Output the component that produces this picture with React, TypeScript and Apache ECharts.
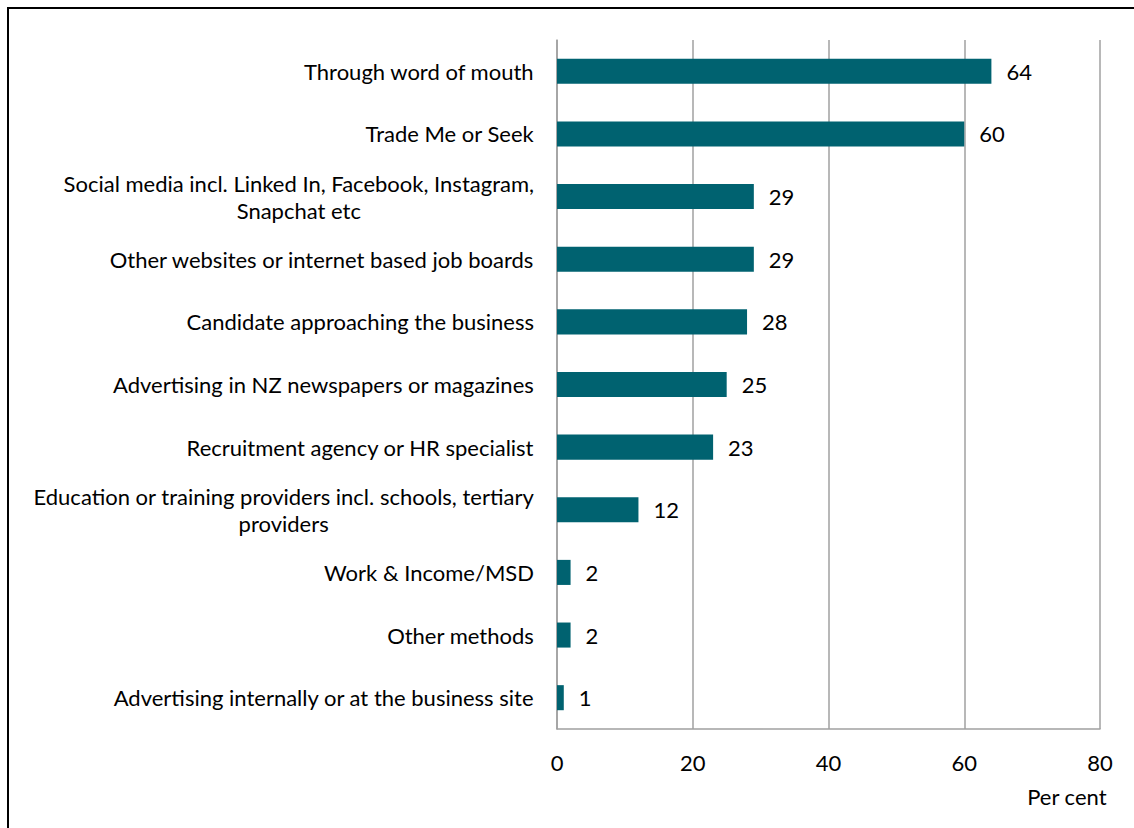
import React, { useEffect, useRef } from "react";
import * as echarts from "echarts";

const categories = [
  "Through word of mouth",
  "Trade Me or Seek",
  "Social media incl. Linked In, Facebook, Instagram,\nSnapchat etc",
  "Other websites or internet based job boards",
  "Candidate approaching the business",
  "Advertising in NZ newspapers or magazines",
  "Recruitment agency or HR specialist",
  "Education or training providers incl. schools, tertiary\nproviders",
  "Work & Income/MSD",
  "Other methods",
  "Advertising internally or at the business site",
];
const values = [64, 60, 29, 29, 28, 25, 23, 12, 2, 2, 1];
const xTicks = { min: 0, max: 80, interval: 20 };
const axisTitle = "Per cent";

const FONT = "Lato";
const FS = 22;

export default function App() {
  const ref = useRef<HTMLDivElement>(null);
  useEffect(() => {
    document.body.style.margin = "0";
    const chart = echarts.init(ref.current!, null, { renderer: "svg" });
    chart.setOption({
      animation: false,
      backgroundColor: "#ffffff",
      textStyle: { fontFamily: FONT },
      grid: { left: 557, right: 34, top: 40, bottom: 99, containLabel: false },
      xAxis: {
        type: "value",
        min: xTicks.min,
        max: xTicks.max,
        interval: xTicks.interval,
        axisLine: { show: true, lineStyle: { color: "#a0a0a0", width: 1.5 } },
        axisTick: { show: false },
        axisLabel: { color: "#000", fontSize: FS, fontFamily: FONT, margin: 22 },
        splitLine: { show: true, lineStyle: { color: "#a0a0a0", width: 1.5 } },
      },
      yAxis: {
        type: "category",
        inverse: true,
        data: categories,
        axisLine: { show: true, lineStyle: { color: "#a0a0a0", width: 1.5 } },
        axisTick: { show: false },
        axisLabel: {
          color: "#000",
          fontSize: FS,
          fontFamily: FONT,
          margin: 23,
          lineHeight: 27,
          formatter: (v: string) =>
            v
              .split("\n")
              .map((l) => `{c|${l}}`)
              .join("\n"),
          rich: {
            c: { align: "center", fontSize: FS, fontFamily: FONT, color: "#000", lineHeight: 27 },
          },
        },
      },
      series: [
        {
          type: "bar",
          data: values,
          barCategoryGap: "60%",
          itemStyle: { color: "#006270" },
          label: {
            show: true,
            position: "right",
            distance: 15,
            color: "#000",
            fontSize: FS,
            fontFamily: FONT,
          },
        },
      ],
      graphic: [
        {
          type: "rect",
          shape: { x: 8, y: 8, width: 1140, height: 840 },
          style: { fill: "none", stroke: "#000", lineWidth: 2 },
          silent: true,
        },
        {
          type: "text",
          right: 27,
          top: 785,
          style: { text: axisTitle, fontSize: FS, fontFamily: FONT, fill: "#000" },
        },
      ],
    });
    return () => chart.dispose();
  }, []);
  return (
    <div
      ref={ref}
      style={{ position: "fixed", left: 0, top: 0, width: 1134, height: 828 }}
    />
  );
}
